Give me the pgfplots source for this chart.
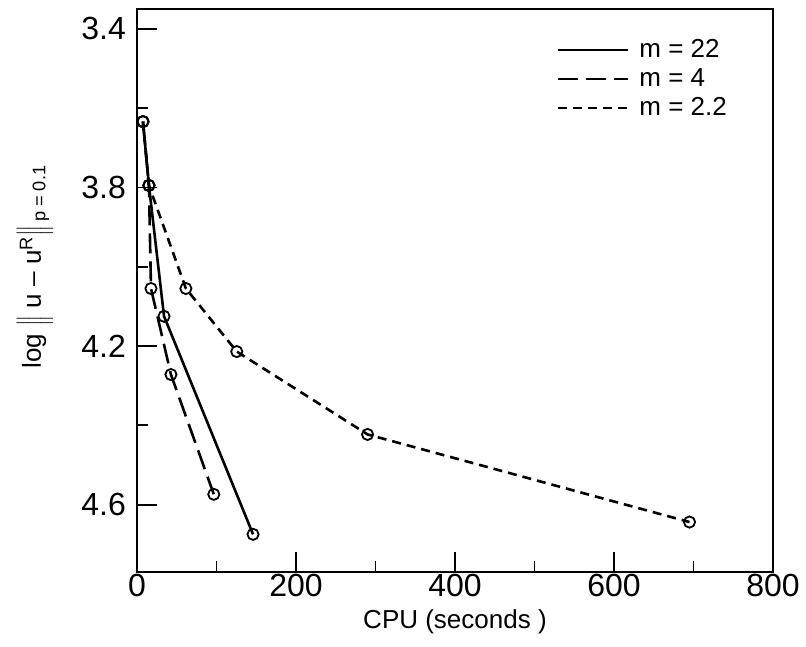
\documentclass[border=0pt]{standalone}
\usepackage{fontspec}
\setmainfont{Liberation Sans}
\usepackage{pgfplots}
\pgfplotsset{compat=1.18}

\begin{document}
\begin{tikzpicture}
\begin{axis}[
  scale only axis,
  width=318pt, height=281.5pt,
  xmin=0, xmax=800, ymin=3.35, ymax=4.77,
  y dir=reverse,
  xtick={0,200,...,800}, minor xtick={100,300,500,700},
  ytick={3.4,3.8,4.2,4.6}, minor ytick={3.6,4.0,4.4},
  tick pos=left, tick align=inside,
  major tick length=10pt, minor tick length=5.5pt,
  every tick/.style={black, line width=0.9pt},
  axis line style={line width=1.4pt},
  /pgf/number format/assume math mode=true,
  /pgf/number format/fixed, /pgf/number format/precision=1,
  yticklabel style={/pgf/number format/fixed zerofill, xshift=-2pt},
  ticklabel style={font=\fontsize{16}{18}\selectfont},
  xticklabel style={inner sep=1pt},
  xlabel={CPU (seconds )},
  ylabel={log $\Big\Vert$ u -- u\textsuperscript{R}$\Big\Vert$\textsubscript{\,p = 0.1}},
  label style={font=\fontsize{13}{15}\selectfont},
  xlabel style={at={(axis description cs:0.5,0)}, anchor=center, yshift=-25pt},
  ylabel style={at={(axis description cs:0,0.5)}, anchor=center, inner sep=0pt,
    yshift=51pt, xshift=12pt},
  legend style={draw=none, fill=none, at={(rel axis cs:0.65,1)}, anchor=north west,
    yshift=-11pt, font=\fontsize{13}{15}\selectfont, row sep=0pt},
  legend cell align=left,
  legend image code/.code={\draw[#1,mark=none] (0pt,0pt) -- (35pt,0pt); \path (38pt,0pt);},
  every axis plot/.append style={line width=1.3pt, black, mark=o,
    mark options={solid, fill=white, line width=0.9pt, scale=1.4}},
]
\addplot[solid] coordinates {(7.5,3.634) (15,3.795) (34,4.125) (146,4.675)};
\addplot[dash pattern=on 10pt off 4pt] coordinates {(7.5,3.634) (15,3.795) (17.6,4.055) (42.7,4.272) (96.6,4.574)};
\addplot[dash pattern=on 4.5pt off 3pt] coordinates {(7.5,3.634) (15,3.795) (61.5,4.055) (125.5,4.214) (290,4.423) (695,4.644)};
\legend{m = 22, m = 4, m = 2.2}
\end{axis}
\pgfresetboundingbox
\path[use as bounding box] (-68.5pt,-37pt) rectangle (334.5pt,286pt);
\end{tikzpicture}
\end{document}
